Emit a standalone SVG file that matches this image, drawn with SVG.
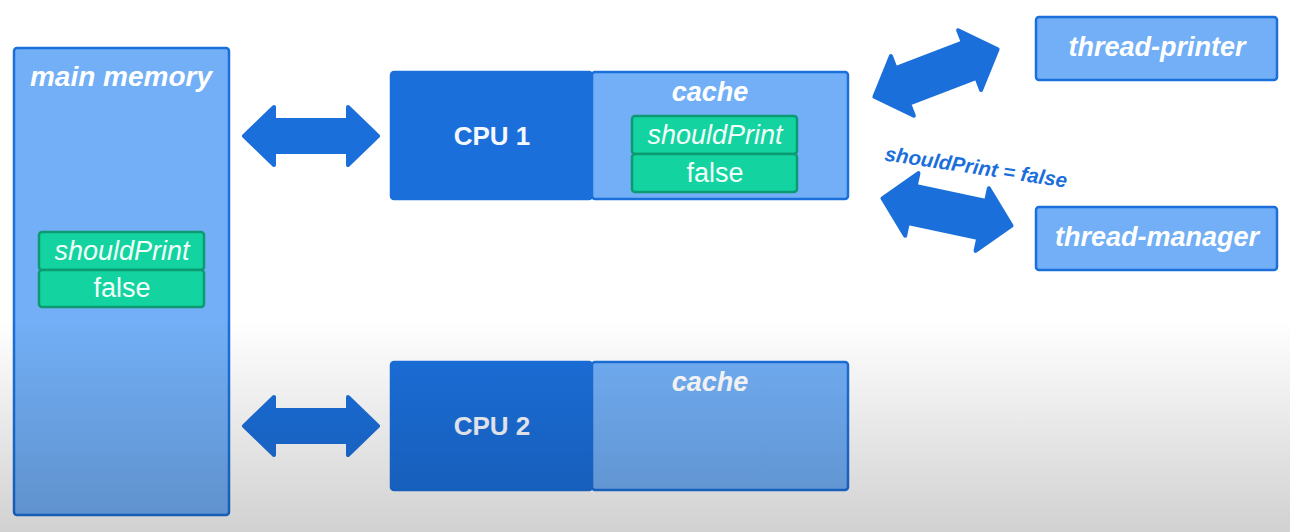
<svg xmlns="http://www.w3.org/2000/svg" width="1290" height="532" viewBox="0 0 1290 532">
<defs>
<style>
.light{fill:#72aff6;stroke:#1b6fdb;stroke-width:2.5}
.dark{fill:#1b6fdb;stroke:#1b6fdb;stroke-width:2.5}
.cell{fill:#13d3a0;stroke:#0c9a72;stroke-width:2.5}
.arrow{fill:#1b6fdb;stroke:#1b6fdb;stroke-width:4;stroke-linejoin:round}
.bi{font-family:"Liberation Sans",Arial,sans-serif;font-weight:bold;font-style:italic;fill:#ffffff;text-anchor:middle}
.b{font-family:"Liberation Sans",Arial,sans-serif;font-weight:bold;fill:#f4f8ff;text-anchor:middle}
.r{font-family:"Liberation Sans",Arial,sans-serif;fill:#f2fffa;text-anchor:middle}
.lbl{font-family:"Liberation Sans",Arial,sans-serif;font-weight:bold;font-style:italic;fill:#1b6fdb;text-anchor:middle}
</style>
<path id="dbl" d="M-67,0 L-37,-29 L-37,-16 L37,-16 L37,-29 L67,0 L37,29 L37,16 L-37,16 L-37,29 Z"/>
<path id="dbl2" d="M-66,0 L-36,-32 L-36,-19 L36,-19 L36,-32 L66,0 L36,32 L36,19 L-36,19 L-36,32 Z"/>
<linearGradient id="shade" x1="0" y1="0" x2="0" y2="1">
<stop offset="0" stop-color="#000" stop-opacity="0"/>
<stop offset="1" stop-color="#000" stop-opacity="0.18"/>
</linearGradient>
</defs>
<rect width="1290" height="532" fill="#ffffff"/>
<g id="connectors">
<use href="#dbl" class="arrow" transform="translate(311,136)"/>
<use href="#dbl" class="arrow" transform="translate(311,426)"/>
<use href="#dbl2" class="arrow" transform="translate(936,73) rotate(-21)"/>
<use href="#dbl2" class="arrow" transform="translate(947,212) rotate(12)"/>
<text class="lbl" font-size="20.5" transform="translate(975,174) rotate(8.5)">shouldPrint = false</text>
</g>
<g id="main-memory">
<rect class="light" x="14" y="48" width="215" height="467" rx="3"/>
<text class="bi" x="121" y="86" font-size="28">main memory</text>
<g id="mm-var">
<rect class="cell" x="39" y="232" width="165" height="38" rx="3"/>
<text class="r" x="122" y="260" font-size="27" font-style="italic">shouldPrint</text>
<rect class="cell" x="39" y="270" width="165" height="37" rx="3"/>
<text class="r" x="122" y="297" font-size="27">false</text>
</g>
</g>
<g id="cpu1">
<rect class="dark" x="391" y="72" width="201" height="127" rx="3"/>
<text class="b" x="492" y="145" font-size="26">CPU 1</text>
</g>
<g id="cache1">
<rect class="light" x="592" y="72" width="256" height="127" rx="3"/>
<text class="bi" x="710" y="101" font-size="27">cache</text>
<rect class="cell" x="632" y="116" width="165" height="38" rx="3"/>
<text class="r" x="715" y="144" font-size="27" font-style="italic">shouldPrint</text>
<rect class="cell" x="632" y="154" width="165" height="38" rx="3"/>
<text class="r" x="715" y="182" font-size="27">false</text>
</g>
<g id="cpu2">
<rect class="dark" x="391" y="362" width="201" height="128" rx="3"/>
<text class="b" x="492" y="435" font-size="26">CPU 2</text>
</g>
<g id="cache2">
<rect class="light" x="592" y="362" width="256" height="128" rx="3"/>
<text class="bi" x="710" y="391" font-size="27">cache</text>
</g>
<g id="thread-printer">
<rect class="light" x="1036" y="17" width="241" height="63" rx="3"/>
<text class="bi" x="1157" y="56" font-size="27">thread-printer</text>
</g>
<g id="thread-manager">
<rect class="light" x="1036" y="207" width="241" height="63" rx="3"/>
<text class="bi" x="1157" y="246" font-size="27">thread-manager</text>
</g>
<rect x="0" y="320" width="1290" height="212" fill="url(#shade)" pointer-events="none"/>
</svg>
